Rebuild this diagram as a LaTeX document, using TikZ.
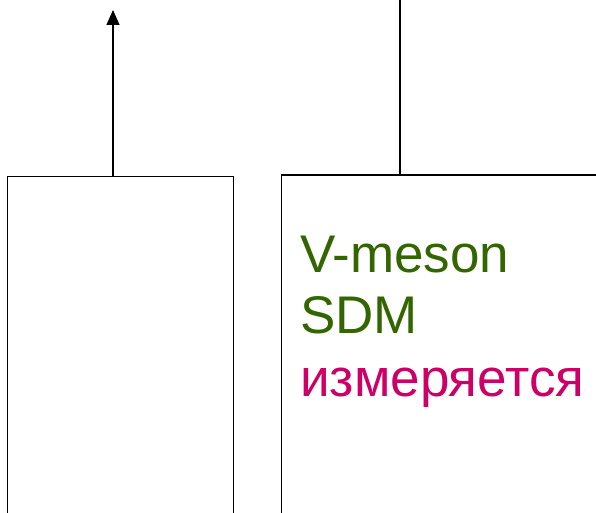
\documentclass[tikz,border=0pt]{standalone}
\usepackage{fontspec}
\setmainfont{Liberation Sans}
\usetikzlibrary{arrows.meta}
\definecolor{mgreen}{HTML}{336600}
\definecolor{mmag}{HTML}{CC0066}
\tikzset{
  box/.style={draw=black, line width=1.3pt, fill=none, rectangle, inner sep=0pt},
  conn/.style={draw=black, line width=1.3pt},
  big/.style={font=\fontsize{53}{62}\selectfont, inner sep=0pt, anchor=base west}
}
\begin{document}
\begin{tikzpicture}[x=1pt,y=1pt]
\useasboundingbox (0,0) rectangle (596,512);
\clip (0,0) rectangle (596,512);
\node[box, minimum width=226pt, minimum height=380pt, anchor=north west] (lb) at (7,336) {};
\node[box, minimum width=340pt, minimum height=380pt, anchor=north west] (rb) at (281,337.5) {};
\coordinate (atop) at (113,502);
\coordinate (ttop) at (400,515);
\draw[conn, -{Triangle[length=15pt,width=13pt]}] (lb.north -| atop) -- (atop);
\draw[conn] (rb.north -| ttop) -- (ttop);
\node[big, text=mgreen] (t1) at (300,240) {V-meson};
\node[big, text=mgreen] (t2) at (300,179) {SDM};
\node[big, text=mmag] (t3) at (300,115.5) {измеряется};
\end{tikzpicture}
\end{document}
